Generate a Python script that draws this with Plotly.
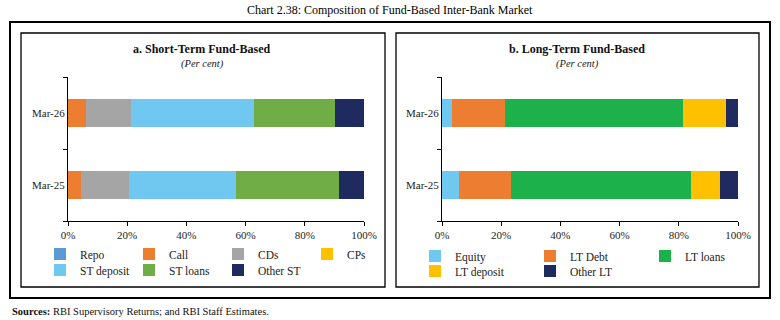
import plotly.graph_objects as go

periods = ["Mar-25", "Mar-26"]

st_names = ["Repo", "Call", "CDs", "CPs", "ST deposit", "ST loans", "Other ST"]
st_colors = ["#5B9BD5", "#ED7D31", "#A5A5A5", "#FFC000", "#70C8F0", "#70AD47", "#1F2A5E"]
st_values = {
    "Repo": [0.0, 0.0],
    "Call": [4.4, 6.1],
    "CDs": [16.1, 15.1],
    "CPs": [0.0, 0.0],
    "ST deposit": [36.1, 41.6],
    "ST loans": [34.8, 27.4],
    "Other ST": [8.6, 9.8],
}

lt_names = ["Equity", "LT Debt", "LT loans", "LT deposit", "Other LT"]
lt_colors = ["#6FC8F0", "#ED7D31", "#1DB14B", "#FFC000", "#1F2A5E"]
lt_values = {
    "Equity": [5.6, 3.3],
    "LT Debt": [17.6, 18.1],
    "LT loans": [60.9, 59.9],
    "LT deposit": [9.8, 14.8],
    "Other LT": [6.1, 3.9],
}

x_ticks = [0, 20, 40, 60, 80, 100]
x_tick_labels = ["0%", "20%", "40%", "60%", "80%", "100%"]

W, H = 780, 320
FONT = "Liberation Serif"

fig = go.Figure()

for i, n in enumerate(st_names):
    fig.add_trace(go.Bar(
        y=periods, x=st_values[n], name=n, orientation="h",
        marker=dict(color=st_colors[i], line=dict(width=0)),
        xaxis="x", yaxis="y",
        legend="legend" if i < 4 else "legend2",
    ))

for i, n in enumerate(lt_names):
    fig.add_trace(go.Bar(
        y=periods, x=lt_values[n], name=n, orientation="h",
        marker=dict(color=lt_colors[i], line=dict(width=0)),
        xaxis="x2", yaxis="y2",
        legend="legend3" if i < 3 else "legend4",
    ))

def px_x(p):
    return p / W

def px_y(p):
    return 1 - p / H

axis_common = dict(
    showline=True, linecolor="#000", linewidth=1,
    ticks="outside", ticklen=4, tickcolor="#000",
    showgrid=False, zeroline=False,
    tickfont=dict(family=FONT, size=11, color="#222"),
)

y_dom = [px_y(221), px_y(77)]

fig.update_layout(
    width=W, height=H,
    margin=dict(l=0, r=0, t=0, b=0, autoexpand=False),
    paper_bgcolor="white", plot_bgcolor="white",
    barmode="stack", bargap=0.6,
    font=dict(family=FONT, size=11, color="#222"),
    xaxis=dict(domain=[px_x(68), px_x(364)], range=[0, 100],
               tickvals=x_ticks, ticktext=x_tick_labels, anchor="y", **axis_common),
    yaxis=dict(domain=y_dom, type="category", categoryorder="array",
               categoryarray=periods, tickson="boundaries", anchor="x",
               range=[-0.5, 1.5], **axis_common),
    xaxis2=dict(domain=[px_x(442), px_x(738)], range=[0, 100],
                tickvals=x_ticks, ticktext=x_tick_labels, anchor="y2", **axis_common),
    yaxis2=dict(domain=y_dom, type="category", categoryorder="array",
                categoryarray=periods, tickson="boundaries", anchor="x2",
                range=[-0.5, 1.5], **axis_common),
)

leg_common = dict(orientation="h", xanchor="left", yanchor="middle",
                  traceorder="normal",
                  font=dict(family=FONT, size=11.5, color="#222"),
                  bgcolor="rgba(0,0,0,0)", entrywidthmode="pixels",
                  itemclick=False, itemdoubleclick=False, tracegroupgap=0)
fig.update_layout(
    legend=dict(x=px_x(40), y=px_y(254), entrywidth=44, **leg_common),
    legend2=dict(x=px_x(40), y=px_y(270), entrywidth=44, **leg_common),
    legend3=dict(x=px_x(415), y=px_y(256), entrywidth=70, **leg_common),
    legend4=dict(x=px_x(415), y=px_y(271), entrywidth=70, **leg_common),
)

shapes = [
    dict(type="rect", xref="paper", yref="paper", x0=px_x(10), x1=px_x(770),
         y0=px_y(298), y1=px_y(22), line=dict(color="#000", width=2)),
    dict(type="rect", xref="paper", yref="paper", x0=px_x(21), x1=px_x(385),
         y0=px_y(287), y1=px_y(33), line=dict(color="#000", width=1.3)),
    dict(type="rect", xref="paper", yref="paper", x0=px_x(396), x1=px_x(759),
         y0=px_y(287), y1=px_y(33), line=dict(color="#000", width=1.3)),
]
fig.update_layout(shapes=shapes)

annotations = [
    dict(text="Chart 2.38: Composition of Fund-Based Inter-Bank Market",
         x=0.5, y=px_y(10), font=dict(size=12, color="#000")),
    dict(text="<b>a. Short-Term Fund-Based</b>", x=px_x(202), y=px_y(49),
         font=dict(size=12, color="#111")),
    dict(text="<i>(Per cent)</i>", x=px_x(202), y=px_y(64),
         font=dict(size=10.5, color="#222")),
    dict(text="<b>b. Long-Term Fund-Based</b>", x=px_x(577), y=px_y(49),
         font=dict(size=12, color="#111")),
    dict(text="<i>(Per cent)</i>", x=px_x(577), y=px_y(64),
         font=dict(size=10.5, color="#222")),
    dict(text="<b>Sources:</b> RBI Supervisory Returns; and RBI Staff Estimates.",
         x=px_x(10), y=px_y(311), xanchor="left", font=dict(size=10.5, color="#111")),
]
for a in annotations:
    a.setdefault("xanchor", "center")
    a.update(xref="paper", yref="paper", yanchor="middle", showarrow=False)
    a["font"]["family"] = FONT
fig.update_layout(annotations=annotations)

fig.write_html("out.html")
